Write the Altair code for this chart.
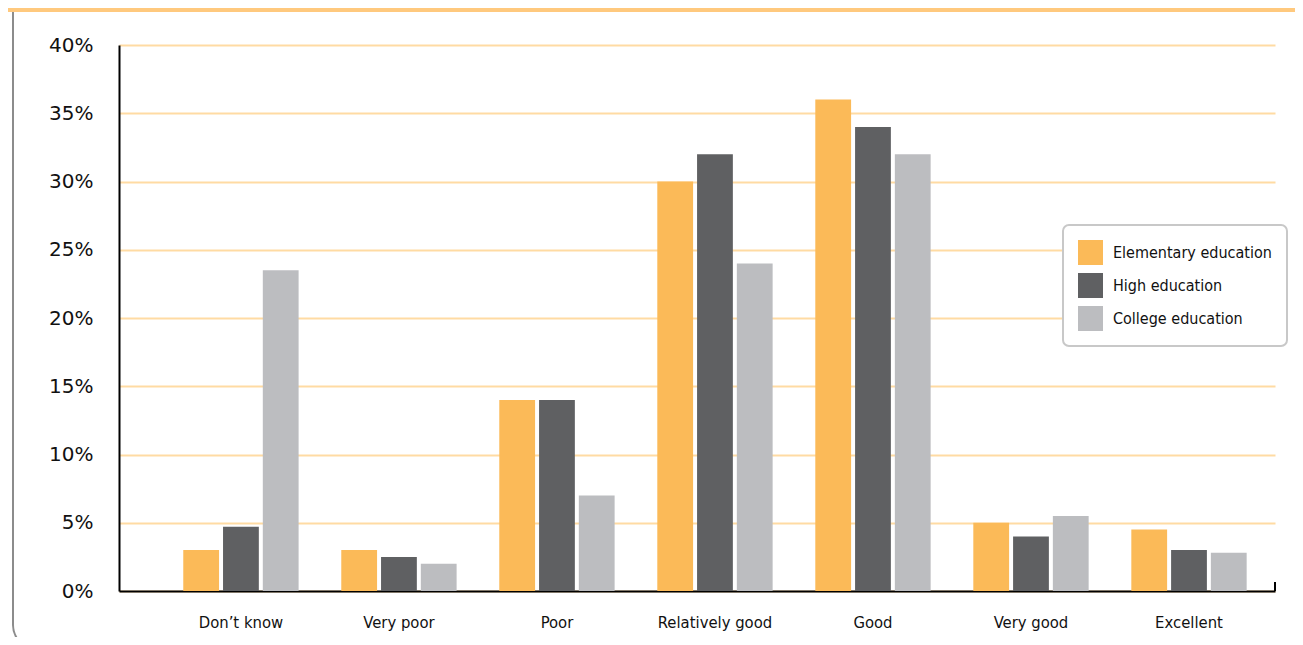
import altair as alt
import pandas as pd

categories = ["Don\u2019t know", "Very poor", "Poor", "Relatively good", "Good", "Very good", "Excellent"]
series = ["Elementary education", "High education", "College education"]
elementary = [3.0, 3.0, 14.0, 30.0, 36.0, 5.0, 4.5]
high = [4.7, 2.5, 14.0, 32.0, 34.0, 4.0, 3.0]
college = [23.5, 2.0, 7.0, 24.0, 32.0, 5.5, 2.8]
colors = ["#FBBA58", "#5F6062", "#BCBDC0"]
y_ticks = [0, 5, 10, 15, 20, 25, 30, 35, 40]

rows = []
for s, vals in zip(series, [elementary, high, college]):
    for c, v in zip(categories, vals):
        rows.append({"category": c, "series": s, "value": v})
df = pd.DataFrame(rows)

W, H = 1156, 546
narrow = "Liberation Sans Narrow, DejaVu Sans Condensed, sans-serif"

bars = alt.Chart(df).mark_bar().encode(
    x=alt.X("category:N", sort=categories,
            scale=alt.Scale(paddingInner=0.27, paddingOuter=0.293, align=0.694),
            axis=alt.Axis(title=None, domain=True, domainColor="#000", domainWidth=2,
                          ticks=False, grid=False, labelAngle=0,
                          labelFont=narrow, labelFontSize=16.5, labelColor="#111",
                          labelPadding=23)),
    xOffset=alt.XOffset("series:N", sort=series,
                        scale=alt.Scale(paddingInner=0.1, paddingOuter=0)),
    y=alt.Y("value:Q", scale=alt.Scale(domain=[0, 40], nice=False),
            axis=alt.Axis(title=None, values=y_ticks, labelExpr="datum.value + '%'",
                          grid=True, gridColor="#FFDBA3", gridWidth=2,
                          domain=True, domainColor="#000", domainWidth=2,
                          ticks=False, labelPadding=26, labelFont="DejaVu Sans",
                          labelFontSize=20, labelColor="#111")),
    color=alt.Color("series:N", sort=series,
                    scale=alt.Scale(domain=series, range=colors),
                    legend=alt.Legend(title=None, orient="none", legendX=944, legendY=180,
                                      symbolType="square", symbolSize=625,
                                      symbolStrokeWidth=0, labelFont=narrow,
                                      labelFontSize=16, labelColor="#111", labelLimit=400,
                                      labelOffset=10, rowPadding=8, padding=15,
                                      fillColor="white", strokeColor="#C8C8C8")),
)

one = pd.DataFrame({"v": [0]})

border = alt.Chart(one).mark_rect(fill=None, stroke="#8C8C8C", strokeWidth=2,
                                  cornerRadius=24).encode(
    x=alt.value(-106), x2=alt.value(1250), y=alt.value(-80), y2=alt.value(604))
band = alt.Chart(one).mark_rect(color="#FFC97E").encode(
    x=alt.value(-120), x2=alt.value(1250), y=alt.value(-45), y2=alt.value(-33))
endtick = alt.Chart(one).mark_rule(color="#000", strokeWidth=2).encode(
    x=alt.value(W), y=alt.value(H - 9), y2=alt.value(H))

chart = alt.layer(border, band, bars, endtick).properties(
    width=W, height=H,
    background="white",
    autosize=alt.AutoSizeParams(type="none"),
    padding={"left": 111, "top": 37, "right": 20, "bottom": 46},
).configure_view(stroke=None, strokeWidth=0).configure_legend(
    strokeWidth=2, cornerRadius=6)

chart.save("out.html", embed_options={"renderer": "svg", "actions": False})
